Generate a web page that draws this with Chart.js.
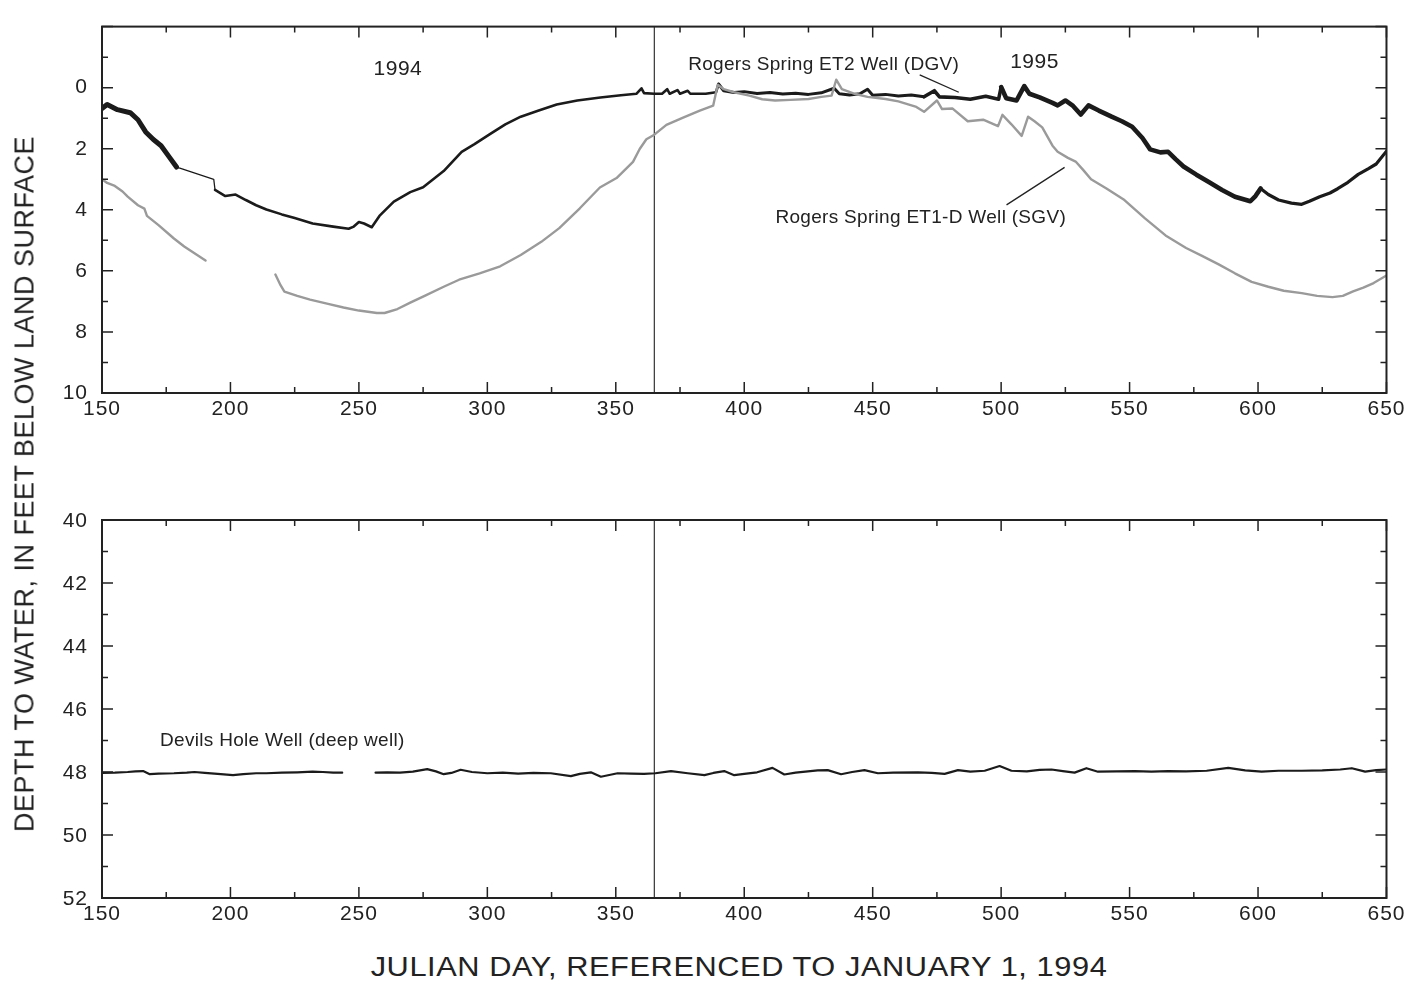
<!DOCTYPE html>
<html>
<head>
<meta charset="utf-8">
<title>Depth to water, Rogers Spring and Devils Hole wells</title>
<script src="https://cdn.jsdelivr.net/npm/chart.js@4.4.1/dist/chart.umd.min.js"></script>
<style>
  html, body { margin: 0; padding: 0; background: #fff; }
  #page {
    position: relative; width: 1408px; height: 986px; overflow: hidden;
    font-family: "Liberation Sans", Arial, Helvetica, sans-serif; color: #222;
  }
  canvas { position: absolute; left: 0; }
  #shallowChart { top: 0; }
  #deepChart { top: 460px; }
  .axis-title { position: absolute; white-space: nowrap; font-size: 27px; line-height: 1; }
  #yTitle { left: 25px; top: 484px; letter-spacing: 0.5px; transform: translate(-50%, -50%) rotate(-90deg); }
  #xTitle { left: 739px; top: 967px; letter-spacing: 0.5px; transform: translate(-50%, -50%) scaleX(1.14); }
</style>
</head>
<body>
<div id="page">
  <canvas id="shallowChart" width="1408" height="440"></canvas>
  <canvas id="deepChart" width="1408" height="490"></canvas>
  <div class="axis-title" id="yTitle">DEPTH TO WATER, IN FEET BELOW LAND SURFACE</div>
  <div class="axis-title" id="xTitle">JULIAN DAY, REFERENCED TO JANUARY 1, 1994</div>
</div>
<script>
const FONT = '"Liberation Sans", Arial, Helvetica, sans-serif';

// === Tick labels ===
const dayTicks = [150, 200, 250, 300, 350, 400, 450, 500, 550, 600, 650];
const shallowDepthTicks = [0, 2, 4, 6, 8, 10];
const deepDepthTicks = [40, 42, 44, 46, 48, 50, 52];
const yearBoundary = 365;   // Jan 1, 1995

// === Rogers Spring ET2 Well (DGV), depth in feet ===
const et2Days = [
  150, 152, 156, 161, 164, 167, 170, 173, 176, 179, 180, 193.5, 194, 198, 202, 206, 210, 214,
  220, 225, 232, 240, 246, 248, 250, 252, 255, 258, 263.6, 270, 275, 283, 290, 295, 301, 307,
  313, 320, 327, 335, 344, 352, 358, 360, 361, 365, 368, 370, 371, 374, 375, 378, 379, 385,
  389, 390, 392, 396, 400, 405, 410, 415, 420, 425, 430, 435, 437, 441, 445, 448, 450, 455, 460, 465, 470, 474, 476, 482, 488,
  494, 499, 500, 502, 506, 509, 511, 515, 520, 522, 525, 528, 531, 534, 538, 543, 547, 551,
  555, 558, 562, 565, 568, 571, 576, 581, 586, 591, 597, 599, 601, 604, 608, 613, 617, 620,
  624, 628, 631, 635, 639, 643, 646, 650
];
const et2Depth = [
  0.68, 0.55, 0.72, 0.82, 1.05, 1.45, 1.7, 1.9, 2.25, 2.6, 2.63, 3.0, 3.35, 3.55, 3.5, 3.68, 3.85, 3.99,
  4.15, 4.27, 4.45, 4.55, 4.62, 4.55, 4.4, 4.45, 4.57, 4.2, 3.73, 3.42, 3.26, 2.73, 2.1, 1.85, 1.52, 1.2,
  0.95, 0.75, 0.55, 0.42, 0.32, 0.25, 0.2, 0.02, 0.18, 0.2, 0.2, 0.05, 0.2, 0.08, 0.2, 0.1, 0.2, 0.2,
  0.15, -0.12, 0.1, 0.16, 0.13, 0.19, 0.16, 0.21, 0.18, 0.22, 0.17, 0.02, 0.2, 0.24, 0.2, 0.05, 0.25, 0.22, 0.27, 0.24, 0.3, 0.1, 0.3, 0.32, 0.38,
  0.28, 0.38, -0.02, 0.35, 0.42, -0.05, 0.2, 0.32, 0.5, 0.58, 0.42, 0.6, 0.88, 0.58, 0.75, 0.95, 1.1, 1.28,
  1.65, 2.02, 2.12, 2.1, 2.35, 2.58, 2.85, 3.1, 3.35, 3.57, 3.72, 3.55, 3.3, 3.5, 3.68, 3.78, 3.82, 3.72,
  3.57, 3.45, 3.31, 3.1, 2.84, 2.65, 2.5, 2.08
];

// === Rogers Spring ET1-D Well (SGV), depth in feet (null = no record) ===
const et1Days = [
  150, 152, 155, 158, 160, 164, 166.5, 167.5, 172, 178, 182, 186, 190.3, 191, 217.5, 219.5, 221, 226,
  231, 238, 244, 250, 257, 260, 265, 270, 276, 283, 289, 297, 305, 313, 321, 328, 336, 343.8,
  350.3, 356.7, 359.3, 361.9, 365, 369.7, 376.2, 382.7, 387.9, 389.7, 392, 396, 402, 407, 412, 418, 425, 430,
  434, 435.8, 438, 443, 448, 455, 460, 467, 470, 475, 477, 481, 487, 493, 498.8, 500.5, 504, 508,
  510.5, 513, 516, 520, 522, 526, 529, 532, 535, 541, 548, 556, 564, 572, 578, 584.5, 591, 597.5,
  604, 610, 617, 623, 629, 633, 637, 641, 645, 650
];
const et1Depth = [
  3.0, 3.12, 3.22, 3.4, 3.57, 3.85, 3.96, 4.2, 4.5, 4.94, 5.2, 5.42, 5.66, null, 6.12, 6.47, 6.68, 6.82,
  6.94, 7.08, 7.2, 7.3, 7.38, 7.38, 7.25, 7.04, 6.8, 6.52, 6.29, 6.08, 5.85, 5.48, 5.05, 4.6, 3.95, 3.27,
  2.96, 2.43, 2.01, 1.69, 1.54, 1.22, 0.98, 0.75, 0.59, -0.1, 0.05, 0.15, 0.26, 0.38, 0.42, 0.4, 0.37, 0.3,
  0.26, -0.26, 0.05, 0.2, 0.3, 0.37, 0.45, 0.63, 0.79, 0.42, 0.7, 0.68, 1.1, 1.05, 1.26, 0.89, 1.2, 1.58,
  0.95, 1.1, 1.3, 1.9, 2.1, 2.3, 2.42, 2.7, 3.0, 3.3, 3.68, 4.28, 4.84, 5.25, 5.5, 5.78, 6.08, 6.36,
  6.52, 6.65, 6.73, 6.82, 6.86, 6.82, 6.67, 6.55, 6.4, 6.15
];

// === Devils Hole Well (deep well), depth in feet (null = no record) ===
const dhDays = [
  150, 155, 160, 163, 166, 168.6, 172, 178, 183, 186, 190, 195, 201, 205, 210, 214, 220, 226,
  232, 236, 240, 243.5, 244, 256.5, 261, 266, 271, 276.6, 280, 283, 286, 289.6, 294, 300, 306, 312,
  318, 324.7, 332.5, 336, 340.3, 344.2, 350.7, 356, 361, 365.4, 371.5, 378, 384.5, 388, 392.2, 396.1, 400, 405,
  411, 415.6, 420, 428.6, 432.5, 437.7, 442, 446.8, 452, 458, 467.6, 473, 478, 483.2, 488, 493.6, 499.4, 504,
  510, 515, 519.6, 524, 528.6, 533.2, 537.7, 545, 552, 558.5, 565, 572, 580, 588.4, 595, 601.4, 608, 617,
  625, 632, 636.5, 641.7, 646, 650
];
const dhDepth = [
  48.03, 48.02, 48.0, 47.98, 47.97, 48.07, 48.05, 48.04, 48.02, 48.0, 48.03, 48.06, 48.1, 48.07, 48.04, 48.04, 48.02, 48.01,
  47.99, 48.0, 48.02, 48.02, null, 48.02, 48.01, 48.02, 47.99, 47.91, 47.98, 48.07, 48.03, 47.93, 48.0, 48.04, 48.02, 48.05,
  48.03, 48.04, 48.13, 48.06, 48.01, 48.15, 48.04, 48.05, 48.06, 48.04, 47.97, 48.04, 48.1, 48.03, 47.97, 48.1, 48.06, 48.01,
  47.87, 48.08, 48.02, 47.95, 47.94, 48.07, 48.0, 47.94, 48.04, 48.02, 48.01, 48.03, 48.06, 47.94, 47.99, 47.96, 47.81, 47.96,
  47.98, 47.93, 47.92, 47.97, 48.02, 47.88, 47.99, 47.98, 47.97, 47.99, 47.97, 47.98, 47.96, 47.87, 47.95, 47.99, 47.96, 47.96,
  47.95, 47.92, 47.88, 47.99, 47.94, 47.92
];

function toPoints(days, values) {
  return days.map((d, i) => ({ x: d, y: values[i] }));
}

// ET2 record is noisier (earth tides) in some stretches: draw it heavier there
function et2Width(day) {
  if (day < 179) return 5;
  if (day < 194) return 1.3;     // straight connector over missing record
  if (day < 390) return 2.6;
  if (day < 470) return 3;
  if (day < 500) return 3.6;
  if (day < 600) return 4.6;
  return 3.2;
}

// === Frame, inward tick marks, year boundary and notes ===
const framePlugin = {
  id: "frame",
  beforeDraw(chart) {
    chart.ctx.letterSpacing = "1px";   // slightly wide tick lettering
  },
  beforeDatasetsDraw(chart) {
    const { ctx, chartArea: a, scales: { x } } = chart;
    const xb = x.getPixelForValue(yearBoundary);
    ctx.save();
    ctx.strokeStyle = "#333";
    ctx.lineWidth = 1.2;
    ctx.beginPath();
    ctx.moveTo(xb, a.top);
    ctx.lineTo(xb, a.bottom);
    ctx.stroke();
    ctx.restore();
  },
  afterDraw(chart, args, opts) {
    const { ctx, chartArea: a, scales: { x, y } } = chart;
    ctx.save();
    ctx.strokeStyle = "#222";
    ctx.lineWidth = 1.5;
    ctx.beginPath();
    x.ticks.forEach(t => {
      const px = x.getPixelForValue(t.value);
      const len = dayTicks.includes(t.value) ? 11 : 6;
      ctx.moveTo(px, a.bottom); ctx.lineTo(px, a.bottom - len);
      ctx.moveTo(px, a.top); ctx.lineTo(px, a.top + len);
    });
    y.ticks.forEach(t => {
      const py = y.getPixelForValue(t.value);
      const len = t.value % 2 === 0 ? 11 : 6;
      ctx.moveTo(a.left, py); ctx.lineTo(a.left + len, py);
      ctx.moveTo(a.right, py); ctx.lineTo(a.right - len, py);
    });
    ctx.stroke();
    ctx.lineWidth = 2;
    ctx.strokeRect(a.left, a.top, a.right - a.left, a.bottom - a.top);

    // leader lines from labels to curves
    ctx.lineWidth = 1.3;
    ctx.beginPath();
    (opts.leaders || []).forEach(([d0, v0, d1, v1]) => {
      ctx.moveTo(x.getPixelForValue(d0), y.getPixelForValue(v0));
      ctx.lineTo(x.getPixelForValue(d1), y.getPixelForValue(v1));
    });
    ctx.stroke();

    ctx.fillStyle = "#222";
    ctx.textBaseline = "middle";
    (opts.notes || []).forEach(n => {
      ctx.font = n.size + "px " + FONT;
      ctx.letterSpacing = n.spacing + "px";
      ctx.textAlign = n.align;
      ctx.fillText(n.text, x.getPixelForValue(n.day), y.getPixelForValue(n.depth));
    });
    ctx.restore();
    chart.ctx.letterSpacing = "0px";
  }
};

// === Shared axis builders ===
function dayAxis(axisHeight) {
  return {
    type: "linear", min: 150, max: 650,
    grid: { display: false, drawTicks: false },
    border: { display: false },
    ticks: {
      stepSize: 25, maxTicksLimit: 1000, autoSkip: false, maxRotation: 0,
      padding: 4, color: "#222", font: { family: FONT, size: 21 },
      callback: v => dayTicks.includes(v) ? String(v) : ""
    },
    afterFit: s => { s.height = axisHeight; }
  };
}

function depthAxis(min, max, labels, labelOffset) {
  return {
    type: "linear", min: min, max: max, reverse: true,
    grid: { display: false, drawTicks: false },
    border: { display: false },
    ticks: {
      stepSize: 1, maxTicksLimit: 1000, padding: 14, labelOffset: labelOffset,
      color: "#222", font: { family: FONT, size: 21 },
      callback: v => labels.includes(v) ? String(v) : ""
    },
    afterFit: s => { s.width = 102; }
  };
}

const lineBase = {
  pointRadius: 0, pointHoverRadius: 0, tension: 0, spanGaps: false,
  borderJoinStyle: "round", borderCapStyle: "round", fill: false
};

// === Top panel: Rogers Spring wells ===
new Chart(document.getElementById("shallowChart"), {
  type: "line",
  data: {
    datasets: [
      { ...lineBase, label: "Rogers Spring ET1-D Well (SGV)", data: toPoints(et1Days, et1Depth),
        borderColor: "#9a9a9a", borderWidth: 2.4 },
      { ...lineBase, label: "Rogers Spring ET2 Well (DGV)", data: toPoints(et2Days, et2Depth),
        borderColor: "#1b1b1b", borderWidth: 2.6,
        segment: { borderWidth: c => et2Width(c.p0.parsed.x) } }
    ]
  },
  options: {
    responsive: false, animation: false, devicePixelRatio: 1,
    layout: { padding: { top: 13, right: 21, left: 0, bottom: 0 } },
    scales: { x: dayAxis(47), y: depthAxis(-2, 10, shallowDepthTicks, 0) },
    plugins: {
      legend: { display: false },
      tooltip: { enabled: false },
      frame: {
        notes: [
          { text: "1994", day: 265.2, depth: -0.61, size: 21, spacing: 0.5, align: "center" },
          { text: "1995", day: 513.0, depth: -0.83, size: 21, spacing: 0.5, align: "center" },
          { text: "Rogers Spring ET2 Well (DGV)", day: 430.9, depth: -0.74, size: 19, spacing: 0.3, align: "center" },
          { text: "Rogers Spring ET1-D Well (SGV)", day: 468.7, depth: 4.25, size: 19, spacing: 0.3, align: "center" }
        ],
        leaders: [
          [468.3, -0.42, 483.5, 0.15],
          [502.1, 3.84, 524.7, 2.61]
        ]
      }
    }
  },
  plugins: [framePlugin]
});

// === Bottom panel: Devils Hole well ===
new Chart(document.getElementById("deepChart"), {
  type: "line",
  data: {
    datasets: [
      { ...lineBase, label: "Devils Hole Well (deep well)", data: toPoints(dhDays, dhDepth),
        borderColor: "#1b1b1b", borderWidth: 2.2 }
    ]
  },
  options: {
    responsive: false, animation: false, devicePixelRatio: 1,
    layout: { padding: { top: 60, right: 21, left: 0, bottom: 0 } },
    scales: { x: dayAxis(52), y: depthAxis(40, 52, deepDepthTicks, 1) },
    plugins: {
      legend: { display: false },
      tooltip: { enabled: false },
      frame: {
        notes: [
          { text: "Devils Hole Well (deep well)", day: 172.6, depth: 47.02, size: 19, spacing: 0.3, align: "left" }
        ]
      }
    }
  },
  plugins: [framePlugin]
});
</script>
</body>
</html>
